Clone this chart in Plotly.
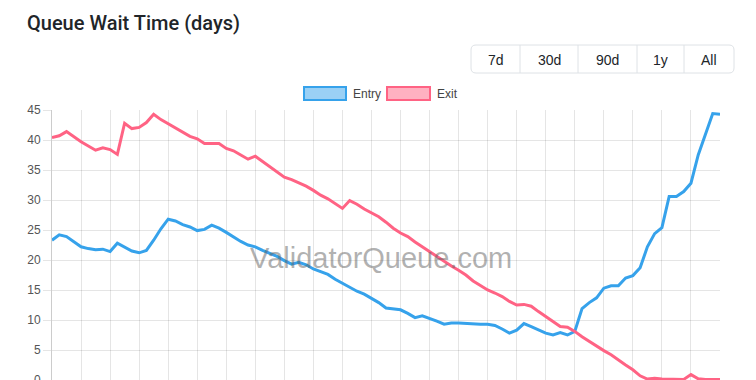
import plotly.graph_objects as go

# ---- data ----
day_index = list(range(93))
entry_days = [23.3, 24.2, 23.9, 23.1, 22.2, 21.9, 21.7, 21.8, 21.4, 22.8,
              22.1, 21.5, 21.2, 21.6, 23.3, 25.2, 26.8, 26.5, 25.9, 25.5,
              24.9, 25.1, 25.8, 25.3, 24.6, 23.8, 23.1, 22.5, 22.2, 21.6,
              21.1, 20.6, 19.9, 19.3, 19.6, 19.2, 18.5, 18.0, 17.6, 16.8,
              16.1, 15.4, 14.8, 14.3, 13.6, 12.9, 12.0, 11.8, 11.7, 11.1,
              10.4, 10.7, 10.3, 9.8, 9.3, 9.5, 9.5, 9.4, 9.4, 9.3,
              9.3, 9.1, 8.5, 7.8, 8.3, 9.4, 8.9, 8.3, 7.8, 7.5,
              7.9, 7.5, 8.1, 11.9, 12.9, 13.7, 15.3, 15.7, 15.7, 17.0,
              17.4, 18.7, 22.2, 24.4, 25.4, 30.6, 30.6, 31.4, 32.8, 37.5,
              40.8, 44.4, 44.3]
exit_days = [40.4, 40.7, 41.4, 40.5, 39.7, 39.0, 38.3, 38.7, 38.4, 37.6,
             42.8, 41.9, 42.1, 42.9, 44.3, 43.4, 42.7, 42.1, 41.3, 40.6,
             40.2, 39.4, 39.4, 39.4, 38.6, 38.2, 37.5, 36.8, 37.3, 36.4,
             35.6, 34.7, 33.8, 33.4, 32.9, 32.3, 31.6, 30.8, 30.2, 29.4,
             28.6, 29.9, 29.3, 28.5, 27.8, 27.2, 26.3, 25.3, 24.5, 23.9,
             23.0, 22.2, 21.3, 20.5, 19.8, 19.0, 18.3, 17.5, 16.5, 15.7,
             15.0, 14.5, 13.9, 13.1, 12.5, 12.6, 12.3, 11.4, 10.6, 9.7,
             8.9, 8.8, 8.1, 7.2, 6.4, 5.7, 4.9, 4.2, 3.3, 2.5,
             1.7, 0.7, 0.15, 0.3, 0.15, 0.1, 0.1, 0.1, 0.9, 0.2,
             0.1, 0.1, 0.1]
series_names = ["Entry", "Exit"]
range_buttons = ["7d", "30d", "90d", "1y", "All"]
y_ticks = [0, 5, 10, 15, 20, 25, 30, 35, 40, 45]

BLUE = "rgb(54,162,235)"
RED = "rgb(255,99,132)"
BLUE_FILL = "rgba(54,162,235,0.5)"
RED_FILL = "rgba(255,99,132,0.5)"

W, H = 756, 380
ML, MR, MT, MB = 52, 36, 110, 0
PW, PH = W - ML - MR, H - MT - MB


def px(x):
    return (x - ML) / PW


def py(y):
    return (H - MB - y) / PH


fig = go.Figure()
fig.add_trace(go.Scatter(x=day_index, y=entry_days, mode="lines", name=series_names[0],
                         line=dict(color=BLUE, width=3), showlegend=False))
fig.add_trace(go.Scatter(x=day_index, y=exit_days, mode="lines", name=series_names[1],
                         line=dict(color=RED, width=3), showlegend=False))

shapes = []
annotations = []

# title
annotations.append(dict(text="Queue Wait Time (days)", xref="paper", yref="paper",
                        x=px(25), y=py(23), xanchor="left", yanchor="middle", showarrow=False,
                        font=dict(family="Roboto, Liberation Sans, sans-serif", size=20,
                                  color="#212529", weight=500)))

# range buttons
btn_edges = [471, 520, 578, 637, 684, 734]
bt, bb, r = 45, 73, 5
x0, x1 = px(btn_edges[0]), px(btn_edges[-1])
rx, ry = r / PW, r / PH
yt, yb = py(bt), py(bb)
path = (f"M {x0+rx},{yt} L {x1-rx},{yt} Q {x1},{yt} {x1},{yt-ry} L {x1},{yb+ry} "
        f"Q {x1},{yb} {x1-rx},{yb} L {x0+rx},{yb} Q {x0},{yb} {x0},{yb+ry} "
        f"L {x0},{yt-ry} Q {x0},{yt} {x0+rx},{yt} Z")
shapes.append(dict(type="path", path=path, xref="paper", yref="paper",
                   line=dict(color="#dee2e6", width=1), fillcolor="white", layer="above"))
for e in btn_edges[1:-1]:
    shapes.append(dict(type="line", xref="paper", yref="paper", x0=px(e), x1=px(e),
                       y0=yt, y1=yb, line=dict(color="#dee2e6", width=1), layer="above"))
for i, lab in enumerate(range_buttons):
    cx = (btn_edges[i] + btn_edges[i + 1]) / 2
    annotations.append(dict(text=lab, xref="paper", yref="paper", x=px(cx), y=py(60),
                            xanchor="center", yanchor="middle", showarrow=False,
                            font=dict(family="Liberation Sans, Arial, sans-serif", size=14,
                                      color="#212529")))

# legend (Chart.js style boxes)
legend_items = [(series_names[0], BLUE, BLUE_FILL, 304, 346, 351),
                (series_names[1], RED, RED_FILL, 387, 430, 435)]
for name, lc, fc, bx0, bx1, tx in legend_items:
    shapes.append(dict(type="rect", xref="paper", yref="paper", x0=px(bx0), x1=px(bx1),
                       y0=py(87), y1=py(100), fillcolor=fc, line=dict(color=lc, width=2),
                       layer="above"))
    annotations.append(dict(text=name, xref="paper", yref="paper", x=px(tx), y=py(93.5),
                            xanchor="left", yanchor="middle", showarrow=False,
                            font=dict(family="Liberation Sans, Arial, sans-serif", size=12,
                                      color="#444")))

# watermark
annotations.append(dict(text="ValidatorQueue.com", xref="paper", yref="paper",
                        x=px(381), y=py(258), xanchor="center", yanchor="middle",
                        showarrow=False,
                        font=dict(family="Liberation Sans, Arial, sans-serif", size=29,
                                  color="rgba(100,100,100,0.5)")))

fig.update_layout(
    width=W, height=H, autosize=False,
    margin=dict(l=ML, r=MR, t=MT, b=MB, pad=0, autoexpand=False),
    paper_bgcolor="white", plot_bgcolor="white",
    shapes=shapes, annotations=annotations,
    showlegend=False,
    xaxis=dict(range=[0, 92], tick0=0, dtick=4, showgrid=True,
               gridcolor="rgba(0,0,0,0.1)", gridwidth=1, showticklabels=False,
               zeroline=False, showline=False, fixedrange=True, automargin=False),
    yaxis=dict(range=[0, 45], tickvals=y_ticks, showgrid=True,
               gridcolor="rgba(0,0,0,0.1)", gridwidth=1, zeroline=False,
               showline=True, linecolor="rgba(0,0,0,0.2)", linewidth=1,
               ticks="outside", ticklen=8, tickcolor="rgba(0,0,0,0.1)",
               ticklabeloverflow="allow", automargin=False,
               tickfont=dict(family="Liberation Sans, Arial, sans-serif", size=12,
                             color="#555"), fixedrange=True),
)

fig.write_html("out.html", config={"displayModeBar": False},
               post_script="document.body.style.margin='0';document.body.style.overflow='hidden';")
